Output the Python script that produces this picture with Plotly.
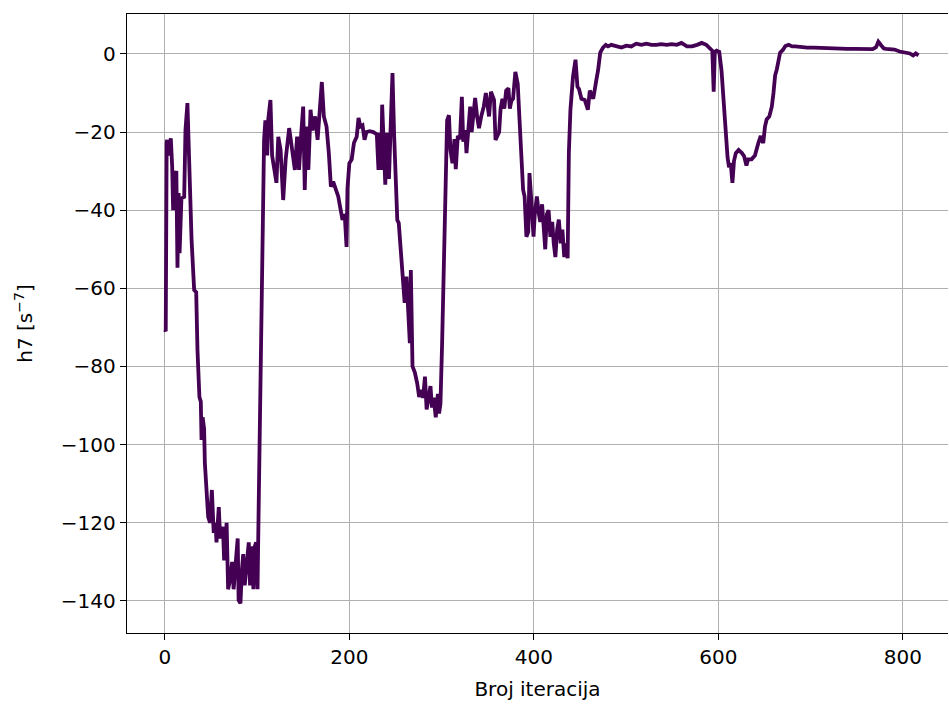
import plotly.graph_objects as go

iteracija = [0, 1, 2, 2.5, 4, 6.5, 8, 9, 11, 12.5, 13.7, 15, 16, 18, 21, 22.4, 24.5, 27, 29, 31.8, 34, 35.4, 37, 37.5, 39,
             39.8, 41, 42.6, 43.4, 45, 47, 49, 51, 53, 55, 56, 58.5, 60, 63, 64.3, 66, 67, 68.6, 70.4, 73, 74.6,
             76.6, 79, 80, 82, 83.6, 85, 86.6, 88.7, 91, 92.4, 93.8, 96, 97.6, 99, 100.5, 102, 104, 105.5, 107.6,
             109, 111, 112, 114.5, 116.3, 118.5, 121, 123, 125.5, 128.3, 131, 134.8, 138, 141, 143.4, 145.5, 147.7,
             150, 151.7, 153.5, 155.6, 158, 160, 163, 165.6, 168, 170.2, 172.4, 175.3, 177.8, 180, 182.5, 185.3,
             188, 189.9, 192.6, 195, 197, 198, 200, 202.6, 205, 208, 210, 212, 214.3, 216.5, 218.6, 222, 226,
             229.8, 231.6, 233, 234.5, 235.6, 237.5, 239, 241, 243, 244.7, 246.8, 248.6, 250.4, 252, 253.6, 255.5,
             257, 258.4, 260, 262, 263.8, 265.6, 266.7, 268.5, 271, 273.6, 275.7, 277.8, 280, 282, 283.8, 286, 288,
             289.6, 291.5, 293.7, 296, 297.3, 298.8, 300.6, 302.4, 304, 306, 308, 309.6, 311.8, 314, 315.4, 317.6,
             320, 322, 323.5, 325.7, 327, 329, 331, 332.6, 334.5, 336.4, 338.5, 340.6, 343, 345.7, 348, 349.5,
             351.5, 353.5, 356.9, 358.5, 362.4, 364, 366, 368, 370, 372.5, 374, 375.7, 377.5, 380, 382.6, 384,
             385.5, 387.3, 388.4, 390, 392, 394, 395.3, 397, 398.4, 399.7, 401, 403.3, 405.5, 407, 409, 410.5,
             412.4, 414.2, 416, 418, 420, 421.6, 423.4, 425.3, 427.1, 429.2, 431, 433, 434.8, 436.7, 438, 439.7,
             442.5, 445.2, 447.3, 449, 451.6, 455.2, 458.6, 460.7, 464.4, 468, 469.6, 472, 475, 478, 480.5, 484,
             489.5, 495, 500.2, 505.7, 511, 516.6, 522, 527.5, 533, 538, 544, 549.5, 555, 560, 566, 571.5, 577,
             582, 587, 590.5, 593.5, 595, 596.2, 598, 601, 603.5, 606, 608, 610, 611.6, 613.5, 615.3, 617, 619,
             622, 625.6, 628, 630.5, 632.3, 636, 639.7, 643.4, 646, 647, 648.7, 650.6, 652.4, 655.3, 658, 659.8,
             661.6, 663.4, 665.3, 667, 670, 672.7, 676.3, 680, 683.6, 689, 696.4, 703.6, 710.8, 718, 725.5, 733,
             740, 747.3, 754.5, 762, 767.3, 771, 773.5, 776.5, 779.4, 782, 785.6, 791, 796.6, 800, 804, 807.6,
             811.2, 814, 817, 820]

h7 = [-70.6, -71, -22.8, -22, -26, -21.6, -29, -40, -31, -30, -54.7, -35.6, -51, -37, -36.6, -19.5, -12.6, -37,
      -47.6, -60.4, -61, -75.8, -84, -87.8, -89, -98.8, -93, -96, -104.7, -111.6, -118.5, -120, -111.6, -122.6,
      -120, -125, -116, -124, -121, -129.6, -125, -120, -137, -135, -130, -137, -131, -124, -139.8, -140.6, -132,
      -128, -136, -130, -125, -136, -126, -137, -126, -125, -137, -111.6, -77.5, -43.3, -22, -17, -26, -17, -11.8,
      -26, -29.7, -33, -21.2, -24.6, -37.4, -27, -19, -24.6, -29.7, -21.2, -29.7, -21, -13.5, -34.8, -18.6, -29.7,
      -14.3, -19.6, -16, -22, -12.6, -7.2, -16, -18.6, -25.4, -34, -32.7, -34.5, -36.5, -39, -42.5, -41, -49.4,
      -34.5, -28, -27, -22.8, -21.2, -16.4, -18.6, -18.3, -22, -20, -19.8, -20, -20.6, -29.7, -20.2, -29.7, -13,
      -28, -33.5, -20.2, -32, -19.5, -4.9, -21, -34.8, -42.5, -43.3, -50, -54.5, -60.4, -63.7, -57, -68.8, -74,
      -55.3, -80, -81.5, -84.3, -87.8, -86, -88, -82.6, -91, -88, -85, -90.5, -88, -93, -87, -92, -89.5, -74,
      -55.3, -38, -17, -15.7, -24.6, -28, -21.8, -29.5, -21, -21.8, -11, -22.5, -19.5, -25.4, -19, -13.5, -20,
      -16, -11.3, -16, -19, -16, -13.5, -10, -13, -16, -9.7, -11.8, -22, -20, -14, -11.5, -14, -9.4, -8.8, -14,
      -12, -11.5, -4.6, -7.7, -14.5, -22.8, -29, -34.8, -36.5, -46.8, -45.5, -30.5, -36.5, -40.4, -46.8, -41.2,
      -36.5, -41, -43, -38.5, -45, -50, -41, -40, -46.8, -43, -48.5, -52, -45, -42.4, -48.5, -45, -52, -48.5,
      -52.3, -25.4, -14.3, -5.8, -1.5, -8.4, -9, -11.5, -11.8, -14.3, -9.4, -11.5, -6.4, -4.3, 0.3, 1.6, 2.3,
      1.9, 2.3, 1.9, 1.6, 2.1, 1.9, 2.6, 2.3, 2.6, 2.3, 2.3, 2.5, 2.3, 2.5, 2.3, 2.8, 1.9, 1.9, 2.3, 2.8, 2.3,
      1.6, 0.8, -9.7, 0.5, 0.8, 0.5, -4.3, -13.5, -19.5, -26.4, -29, -28, -33, -27.4, -25.4, -24.6, -25.4, -26.2,
      -28.6, -27, -27, -26, -22.8, -21, -22, -22.8, -18.6, -16.8, -16, -13.5, -10, -5.5, -4, -1.5, 0.3, 1, 2,
      2.3, 1.9, 1.9, 1.7, 1.6, 1.6, 1.5, 1.5, 1.5, 1.4, 1.3, 1.3, 1.3, 1.2, 1.2, 1.7, 3.1, 2.2, 1.4, 1.3, 1.2,
      1.1, 0.6, 0.4, 0.4, 0.1, -0.4, 0.1, -0.4]

x_ticks = [0, 200, 400, 600, 800]
y_ticks = [0, -20, -40, -60, -80, -100, -120, -140]

font = "DejaVu Sans"
fsize = 20

fig = go.Figure()
fig.add_trace(go.Scatter(x=iteracija, y=h7, mode="lines",
                         line=dict(color="#440154", width=3.8), showlegend=False))

axis_common = dict(showline=True, linecolor="black", linewidth=1.4,
                   ticks="outside", ticklen=6, tickwidth=1.3, tickcolor="black",
                   showgrid=True, gridcolor="#b0b0b0", gridwidth=1.3, zeroline=False,
                   tickfont=dict(family=font, size=fsize, color="black"))

fig.update_xaxes(range=[-41, 849], tickvals=x_ticks, ticktext=[str(v) for v in x_ticks], mirror=True,
                 title=dict(text="Broj iteracija", font=dict(family=font, size=fsize, color="black"), standoff=13),
                 **axis_common)
fig.update_yaxes(range=[-148.2, 10.2], tickvals=y_ticks, mirror=False,
                 ticktext=[("−" + str(-v)) if v < 0 else str(v) for v in y_ticks],
                 title=dict(text="h7 [s<sup>−7</sup>]", font=dict(family=font, size=fsize, color="black"), standoff=22),
                 **axis_common)

fig.update_layout(width=949, height=706, margin=dict(l=127, r=1, t=14, b=73, autoexpand=False),
                  plot_bgcolor="white", paper_bgcolor="white",
                  font=dict(family=font, color="black"))

fig.write_html("out.html", config={"displayModeBar": False},
               post_script="document.body.style.margin='0';document.body.style.overflow='hidden';")
